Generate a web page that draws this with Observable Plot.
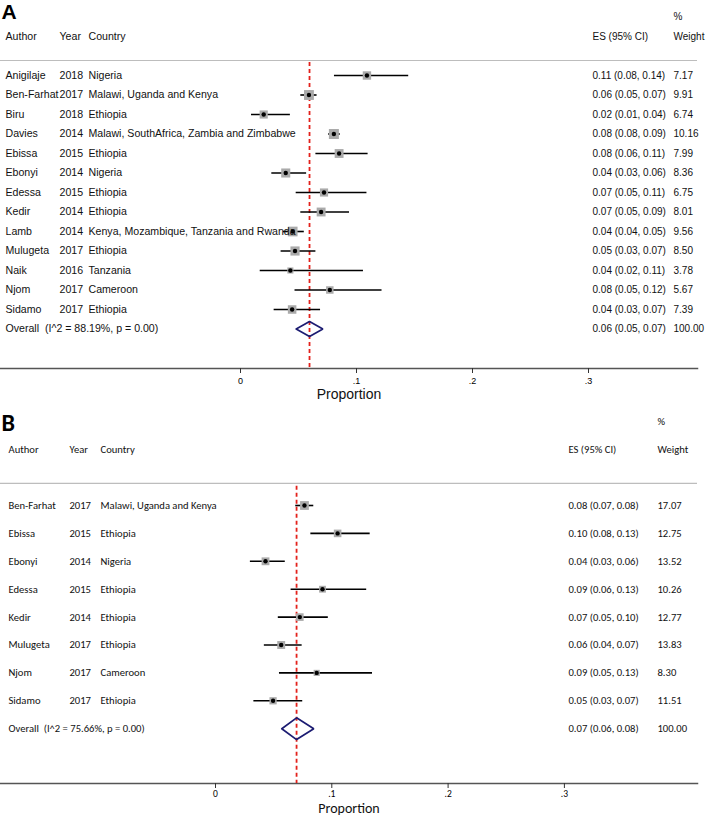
<!DOCTYPE html>
<html><head><meta charset="utf-8">
<script src="https://cdn.jsdelivr.net/npm/d3@7"></script>
<script src="https://cdn.jsdelivr.net/npm/@observablehq/plot@0.6"></script>
<style>
html,body{margin:0;padding:0;background:#fff;}
#chart svg{display:block;}
</style></head><body><div id="chart"></div>
<script>
// ---------- Panel A data ----------
const authorsA = ["Anigilaje","Ben-Farhat","Biru","Davies","Ebissa","Ebonyi","Edessa","Kedir","Lamb","Mulugeta","Naik","Njom","Sidamo"];
const yearsA = ["2018","2017","2018","2014","2015","2014","2015","2014","2014","2017","2016","2017","2017"];
const countriesA = ["Nigeria","Malawi, Uganda and Kenya","Ethiopia","Malawi, SouthAfrica, Zambia and Zimbabwe","Ethiopia","Nigeria","Ethiopia","Ethiopia","Kenya, Mozambique, Tanzania and Rwanda","Ethiopia","Tanzania","Cameroon","Ethiopia"];
const esA = [0.109,0.059,0.020,0.0805,0.085,0.039,0.072,0.0695,0.045,0.047,0.043,0.077,0.0445];
const loA = [0.081,0.052,0.0095,0.076,0.065,0.027,0.048,0.052,0.037,0.035,0.017,0.047,0.029];
const hiA = [0.145,0.066,0.043,0.086,0.110,0.057,0.109,0.094,0.055,0.065,0.106,0.122,0.069];
const weightsA = [7.17,9.91,6.74,10.16,7.99,8.36,6.75,8.01,9.56,8.50,3.78,5.67,7.39];
const ciTextA = ["0.11 (0.08, 0.14)","0.06 (0.05, 0.07)","0.02 (0.01, 0.04)","0.08 (0.08, 0.09)","0.08 (0.06, 0.11)","0.04 (0.03, 0.06)","0.07 (0.05, 0.11)","0.07 (0.05, 0.09)","0.04 (0.04, 0.05)","0.05 (0.03, 0.07)","0.04 (0.02, 0.11)","0.08 (0.05, 0.12)","0.04 (0.03, 0.07)"];
const overallA = [0.0595, 0.048, 0.071];
const overallCiA = "0.06 (0.05, 0.07)";
const overallLabelA = "Overall  (I^2 = 88.19%, p = 0.00)";

// ---------- Panel B data ----------
const authorsB = ["Ben-Farhat","Ebissa","Ebonyi","Edessa","Kedir","Mulugeta","Njom","Sidamo"];
const yearsB = ["2017","2015","2014","2015","2014","2017","2017","2017"];
const countriesB = ["Malawi, Uganda and Kenya","Ethiopia","Nigeria","Ethiopia","Ethiopia","Ethiopia","Cameroon","Ethiopia"];
const esB = [0.0765,0.105,0.043,0.092,0.0725,0.0565,0.087,0.0495];
const loB = [0.069,0.082,0.030,0.065,0.054,0.042,0.055,0.033];
const hiB = [0.0845,0.133,0.060,0.130,0.097,0.0745,0.135,0.075];
const weightsB = [17.07,12.75,13.52,10.26,12.77,13.83,8.30,11.51];
const ciTextB = ["0.08 (0.07, 0.08)","0.10 (0.08, 0.13)","0.04 (0.03, 0.06)","0.09 (0.06, 0.13)","0.07 (0.05, 0.10)","0.06 (0.04, 0.07)","0.09 (0.05, 0.13)","0.05 (0.03, 0.07)"];
const overallB = [0.0697, 0.057, 0.0845];
const overallCiB = "0.07 (0.06, 0.08)";
const overallLabelB = "Overall  (I^2 = 75.66%, p = 0.00)";

// ---------- shared labels ----------
const xTicks = [0, 0.1, 0.2, 0.3];
const xLabel = "Proportion";
const headerLabels = ["Author","Year","Country","ES (95% CI)","Weight"];
const pctLabel = "%";
const overallWeight = "100.00";

function forest(c) {
  const rows = c.authors.map((a, i) => ({row: i, author: a, year: c.years[i], country: c.countries[i],
    es: c.es[i], lo: c.lo[i], hi: c.hi[i], w: c.weights[i], ci: c.ciText[i], wt: c.weights[i].toFixed(2)}));
  const oRow = rows.length;
  const ov = {row: oRow, es: c.overall[0], lo: c.overall[1], hi: c.overall[2]};
  const dia = [[ov.lo, oRow], [ov.es, oRow - c.diaH], [ov.hi, oRow], [ov.es, oRow + c.diaH], [ov.lo, oRow]];
  const cols = c.cols; // x offsets of the text columns
  const tx = (data, opts) => Plot.text(data, {frameAnchor: "left", textAnchor: "start", fontSize: c.fs, fill: "#111", ...opts});
  const headers = headerLabels.map((t, j) => ({t, dx: cols[j], fs: j < 3 ? c.fsL : c.fs}));
  const fmt = d => d === 0 ? "0" : d3.format(".1f")(d).replace(/^0/, "");
  return Plot.plot({
    width: 709, height: c.height,
    marginLeft: 0, marginRight: 12, marginTop: 0, marginBottom: c.mb,
    style: {fontFamily: c.font, fontSize: c.tickFs + "px", background: "#fff", overflow: "visible"},
    x: {domain: c.xDomain, axis: null},
    y: {domain: c.yDomain, reverse: true, axis: null},
    r: {type: "identity"},
    marks: [
      Plot.ruleY([c.sepRow], {stroke: "#bdbdbd", strokeWidth: 1.2}),
      Plot.frame({anchor: "bottom", stroke: "#555", strokeWidth: 1.5}),
      Plot.axisX({ticks: xTicks, tickFormat: fmt, tickSize: 5, tickPadding: c.tickPad, label: null, stroke: "#333", fontSize: c.tickFs}),
      Plot.text([xLabel], {frameAnchor: "bottom", lineAnchor: "top", dy: c.labelDy, fontSize: 14, fill: "#111"}),
      Plot.ruleX([ov.es], {y1: c.sepRow + 0.1, y2: c.yDomain[1], stroke: "#e3211b", strokeWidth: 1.8, strokeDasharray: "4,3"}),
      Plot.ruleY(rows, {y: "row", x1: "lo", x2: "hi", stroke: "#000", strokeWidth: 1.6}),
      Plot.dot(rows, {x: "es", y: "row", r: d => c.k * Math.sqrt(d.w), symbol: "square", fill: "#aaaaaa", stroke: "none"}),
      Plot.dot(rows, {x: "es", y: "row", r: 2.2, fill: "#000", stroke: "none"}),
      Plot.line(dia, {x: d => d[0], y: d => d[1], stroke: "#1c1c72", strokeWidth: 1.7, strokeLinejoin: "miter"}),
      // title letter
      Plot.text([c.title], {frameAnchor: "top-left", textAnchor: "start", lineAnchor: "top", dx: c.titleDx, dy: c.titleDy, fontSize: c.titleFs, fontWeight: "bold", fill: "#000"}),
      // headers
      ...headers.map(h => tx([h.t], {y: [c.headerRow], dx: h.dx, fontSize: h.fs})),
      tx([pctLabel], {y: [c.pctRow], dx: cols[4]}),
      // rows
      tx(rows, {y: "row", text: "author", dx: cols[0], fontSize: c.fsL}),
      tx(rows, {y: "row", text: "year", dx: cols[1], fontSize: c.fsL}),
      tx(rows, {y: "row", text: "country", dx: cols[2], fontSize: c.fsL}),
      tx(rows, {y: "row", text: "ci", dx: cols[3]}),
      tx(rows, {y: "row", text: "wt", dx: cols[4]}),
      // overall
      tx([c.overallLabel], {y: [oRow], dx: cols[0], fontSize: c.fsL}),
      tx([c.overallCi], {y: [oRow], dx: cols[3]}),
      tx([overallWeight], {y: [oRow], dx: cols[4]})
    ]
  });
}

const panelA = forest({
  title: "A", titleFs: 21, titleDx: 1, titleDy: 4,
  authors: authorsA, years: yearsA, countries: countriesA, es: esA, lo: loA, hi: hiA,
  weights: weightsA, ciText: ciTextA, overall: overallA, overallCi: overallCiA, overallLabel: overallLabelA,
  font: "'Liberation Sans', Arial, sans-serif", fs: 10, fsL: 10.6, tickFs: 9, tickPad: 4,
  height: 405, mb: 37,
  xDomain: [-240 / 1160, 457 / 1160],
  yDomain: [-75 / 19.5, 293 / 19.5],
  headerRow: -2, pctRow: -3.03, sepRow: -0.77,
  cols: [5, 59, 88, 592, 673],
  k: 1.77, diaH: 0.385, labelDy: 21
});

const panelB = forest({
  title: "B", titleFs: 24, titleDx: 1, titleDy: 8,
  authors: authorsB, years: yearsB, countries: countriesB, es: esB, lo: loB, hi: hiB,
  weights: weightsB, ciText: ciTextB, overall: overallB, overallCi: overallCiB, overallLabel: overallLabelB,
  font: "Carlito, Lato, 'Open Sans', sans-serif", fs: 10.6, fsL: 10.6, tickFs: 9.5, tickPad: 2,
  height: 412, mb: 34,
  xDomain: [-215 / 1163, 482 / 1163],
  yDomain: [-100 / 27.9, 278 / 27.9],
  headerRow: -2, pctRow: -3.0, sepRow: -0.79,
  cols: [8, 69, 100, 568, 657],
  k: 1.2, diaH: 0.39, labelDy: 20
});

document.getElementById("chart").append(panelA, panelB);
</script>
</body></html>
